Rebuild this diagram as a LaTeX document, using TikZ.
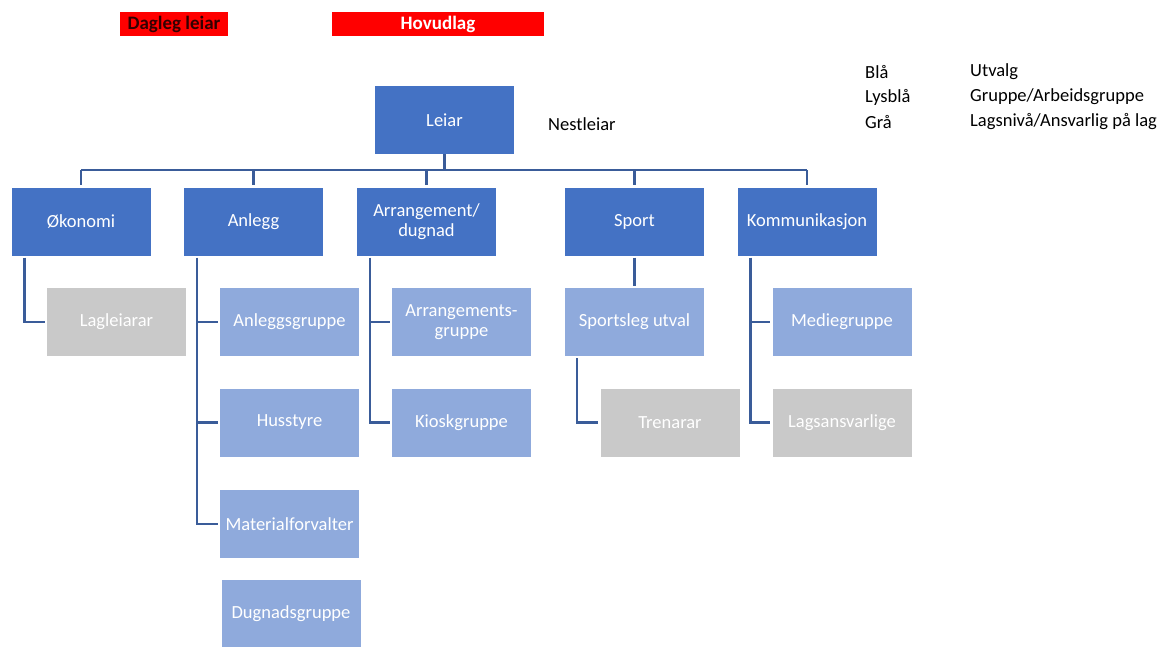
\documentclass[tikz,border=0pt]{standalone}
\usepackage{fontspec}
\setmainfont{Carlito}
\usepackage{tikz}

\definecolor{utvalblue}{HTML}{4472C4}
\definecolor{gruppeblue}{HTML}{8FAADC}
\definecolor{lagsgrey}{HTML}{C9C9C9}
\definecolor{linkblue}{HTML}{3A5C99}
\definecolor{markred}{HTML}{FF0000}

\begin{document}
\begin{tikzpicture}[x=1pt, y=-1pt,
    box/.style={minimum width=139pt, minimum height=68pt, inner sep=1pt,
      align=center, text=white, font=\fontsize{18.5}{20}\selectfont},
    utval/.style={box, fill=utvalblue},
    gruppe/.style={box, fill=gruppeblue},
    lags/.style={box, fill=lagsgrey},
    tag/.style={minimum height=24pt, inner sep=0pt, fill=markred,
      font=\bfseries\fontsize{19}{20}\selectfont},
    link/.style={draw=linkblue, line width=2.4pt},
    legend/.style={anchor=west, inner sep=0pt, font=\fontsize{18.5}{20}\selectfont}]
      \useasboundingbox (0, 0) rectangle (1173, 646);

      \node[tag, minimum width=108pt, text=black!80!red] (dagleg) at (174, 24)
          {Dagleg leiar};
      \node[tag, minimum width=212pt, text=white] (hovudlag) at (438, 24)
          {Hovudlag};

      \node[utval] (leiar) at (444.5, 120) {Leiar};
      \node[legend] (nestleiar) at (548, 124) {Nestleiar};

      \node[utval] (okonomi) at (81, 221.5) {Økonomi};
      \node[utval] (anlegg) at (253.5, 221.5) {Anlegg};
      \node[utval] (arrangement) at (426.5, 221.5) {Arrangement/\\dugnad};
      \node[utval] (sport) at (634.5, 221.5) {Sport};
      \node[utval] (kommunikasjon) at (807, 221.5) {Kommunikasjon};

      \node[lags] (lagleiarar) at (116.5, 322) {Lagleiarar};
      \node[gruppe] (anleggsgruppe) at (289.5, 322) {Anleggsgruppe};
      \node[gruppe] (husstyre) at (289.5, 422.5) {Husstyre};
      \node[gruppe] (materialforvalter) at (289.5, 524) {Materialforvalter};
      \node[gruppe] (dugnadsgruppe) at (291, 614) {Dugnadsgruppe};
      \node[gruppe] (arrgruppe) at (461.5, 322) {Arrangements-\\gruppe};
      \node[gruppe] (kioskgruppe) at (461.5, 422.5) {Kioskgruppe};
      \node[gruppe] (sportsleg) at (634.5, 322) {Sportsleg utval};
      \node[lags] (trenarar) at (670, 422.5) {Trenarar};
      \node[gruppe] (mediegruppe) at (842, 322) {Mediegruppe};
      \node[lags] (lagsansvarlige) at (842, 422.5) {Lagsansvarlige};

      % forklaring
      \node[legend] (blaa) at (865, 72) {Blå};
      \node[legend] (lysblaa) at (865, 97) {Lysblå};
      \node[legend] (graa) at (865, 122) {Grå};
      \node[legend] (utvalg) at (970, 72) {Utvalg};
      \node[legend] (gruppa) at (970, 97) {Gruppe/Arbeidsgruppe};
      \node[legend] (lagsniva) at (970, 122) {Lagsnivå/Ansvarlig på lag};

      \coordinate (bus) at ([yshift=-16pt]leiar.south);
      \draw[link] (leiar.south) -- (bus);
      \draw[link] (bus -| okonomi.north) -- (bus -| kommunikasjon.north);
      \foreach \unit in {okonomi, anlegg, arrangement, sport, kommunikasjon}
        \draw[link] (bus -| \unit.north) -- ([yshift=2pt]\unit.north);

      \draw[link] ([xshift=13pt, yshift=-2pt]okonomi.south west)
          |- ([xshift=-2pt]lagleiarar.west);
      \draw[link] ([xshift=13pt, yshift=-2pt]anlegg.south west)
          |- ([xshift=-2pt]materialforvalter.west);
      \draw[link] ([xshift=13pt]anlegg.south west |- anleggsgruppe.west)
          -- ([xshift=-2pt]anleggsgruppe.west);
      \draw[link] ([xshift=13pt]anlegg.south west |- husstyre.west)
          -- ([xshift=-2pt]husstyre.west);
      \draw[link] ([xshift=13pt, yshift=-2pt]arrangement.south west)
          |- ([xshift=-2pt]kioskgruppe.west);
      \draw[link] ([xshift=13pt]arrangement.south west |- arrgruppe.west)
          -- ([xshift=-2pt]arrgruppe.west);
      \draw[link] ([yshift=-2pt]sport.south) -- ([yshift=2pt]sportsleg.north);
      \draw[link] ([xshift=12pt, yshift=-2pt]sportsleg.south west)
          |- ([xshift=-2pt]trenarar.west);
      \draw[link] ([xshift=13pt, yshift=-2pt]kommunikasjon.south west)
          |- ([xshift=-2pt]lagsansvarlige.west);
      \draw[link] ([xshift=13pt]kommunikasjon.south west |- mediegruppe.west)
          -- ([xshift=-2pt]mediegruppe.west);
    \end{tikzpicture}
\end{document}
